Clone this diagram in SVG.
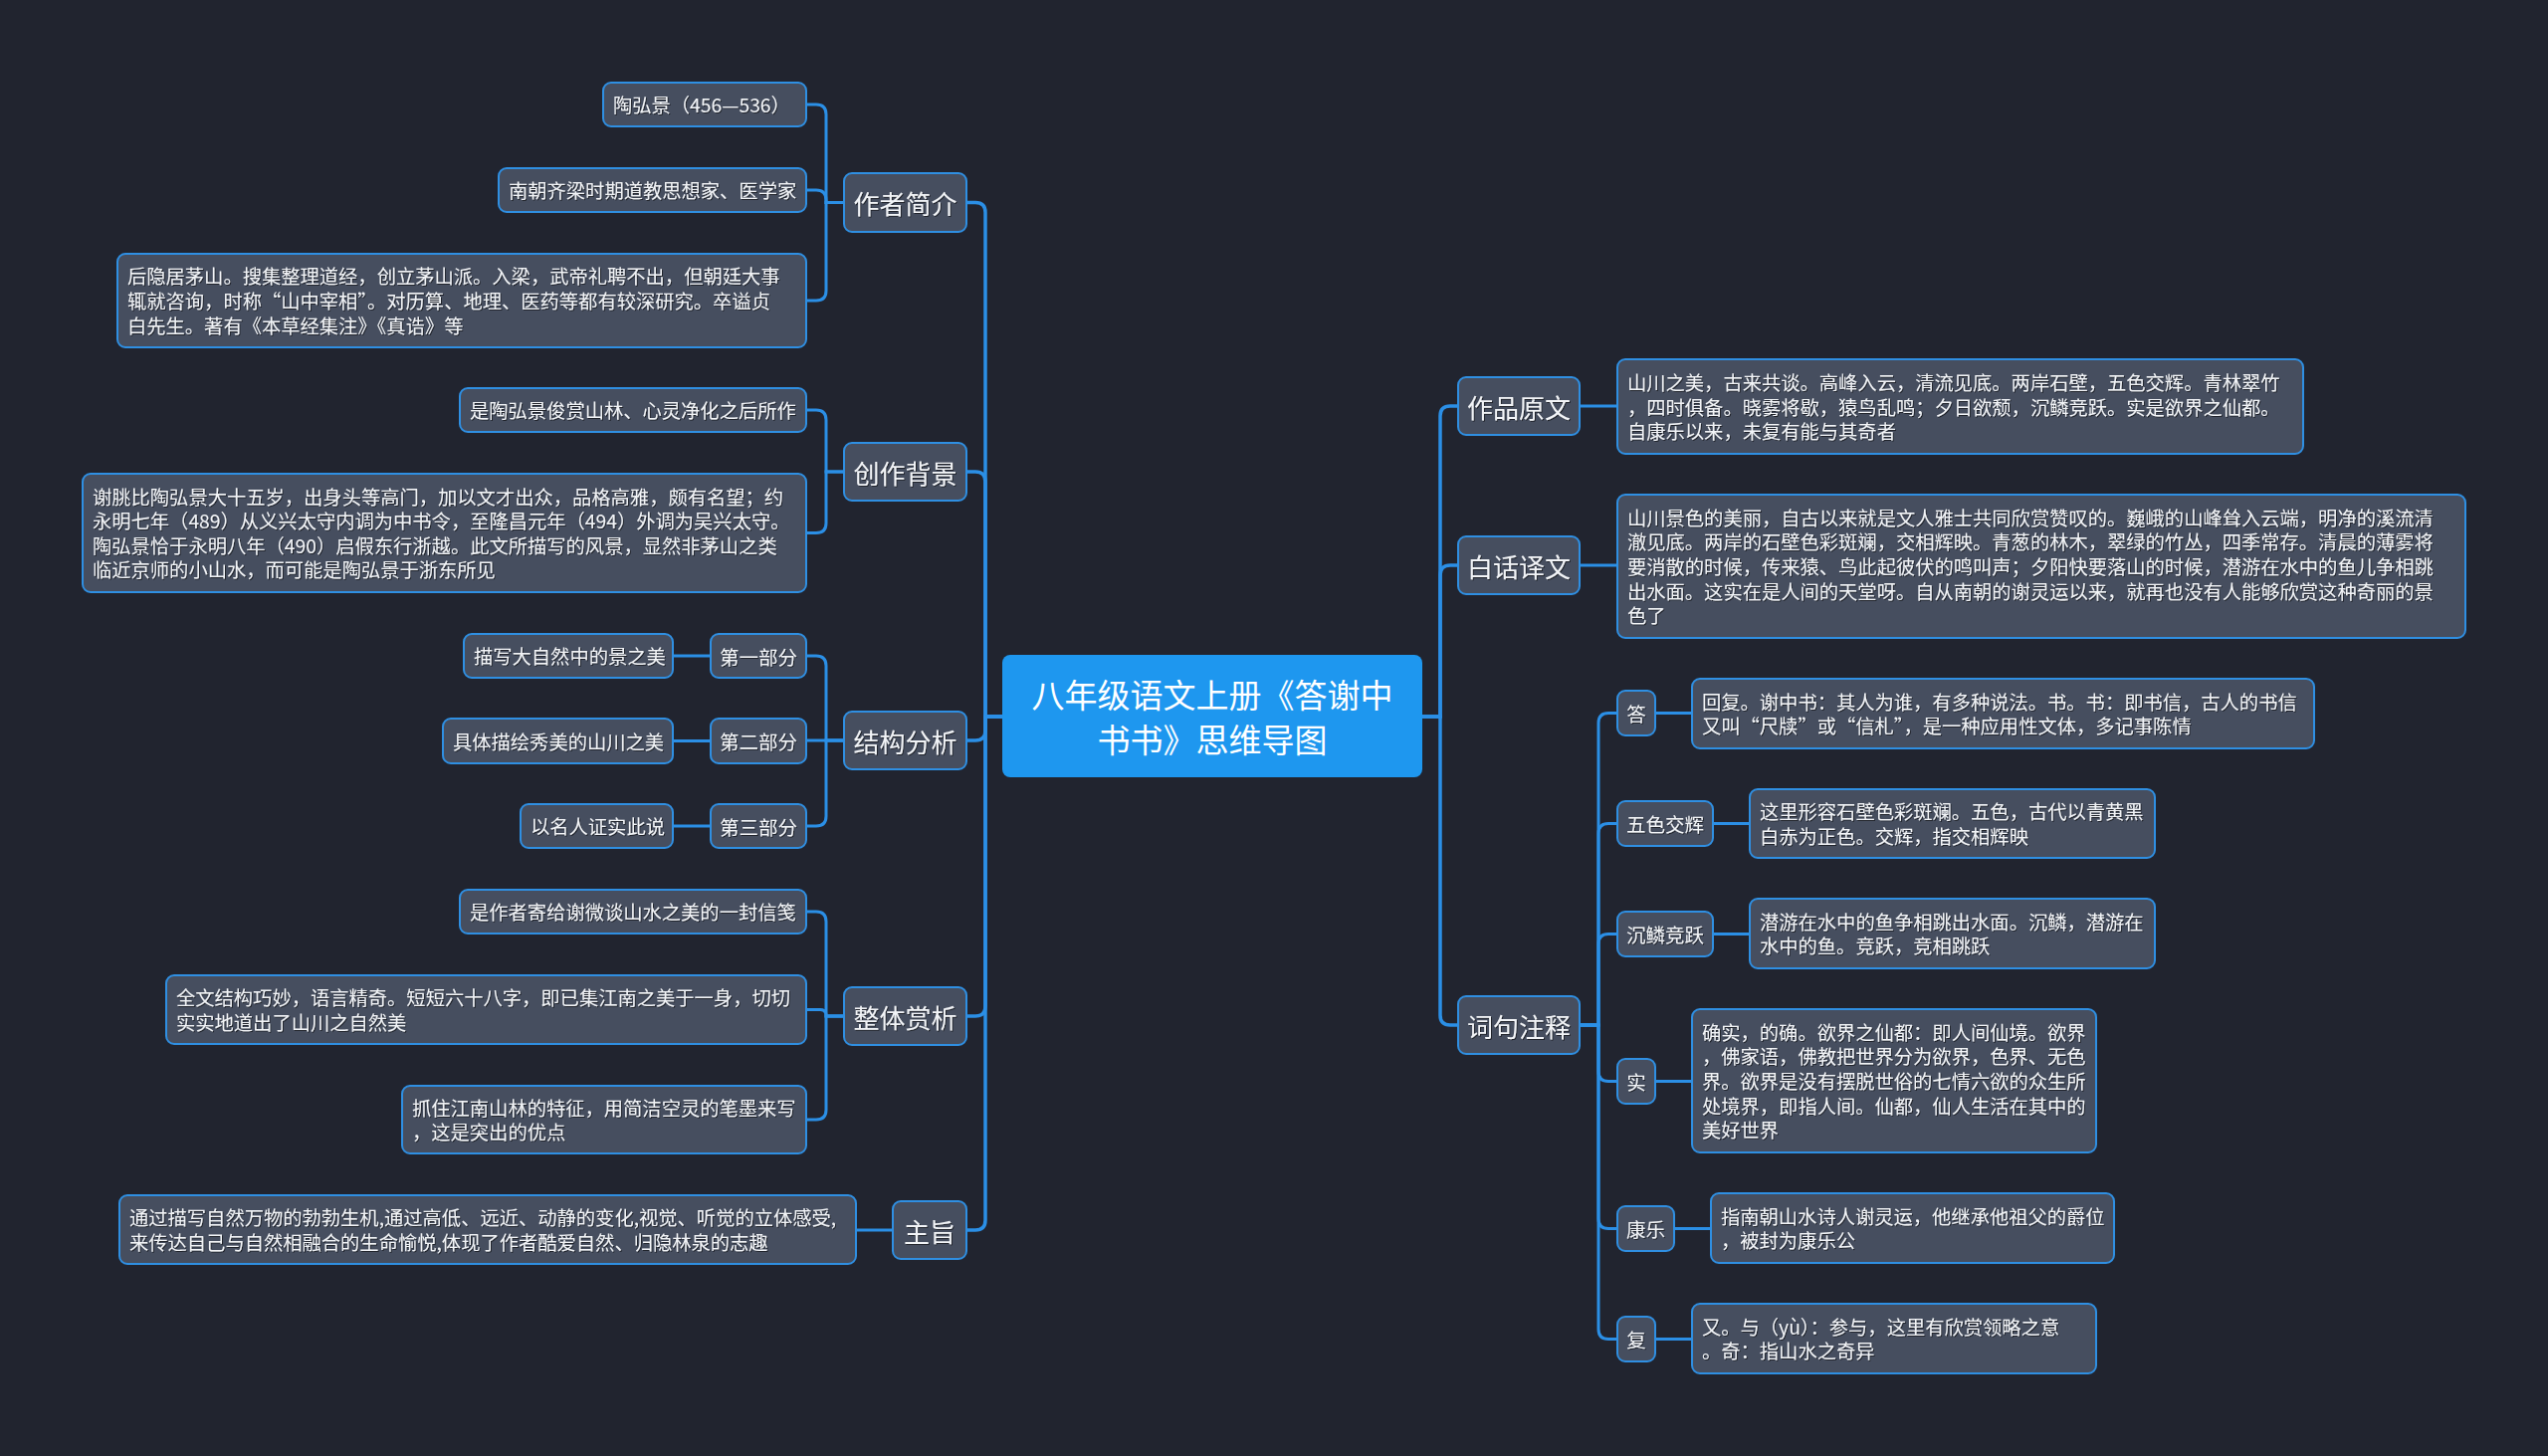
<svg xmlns="http://www.w3.org/2000/svg" width="2560" height="1463" viewBox="0 0 2560 1463">
<style>
.bg{fill:#21242f}
.n{fill:#464e5f;stroke:#2f8fe2;stroke-width:2}
.root{fill:#1e97ef}
.c{fill:none;stroke:#2b8fe6;stroke-width:3.5;stroke-linecap:round}
.c2{fill:none;stroke:#2b8fe6;stroke-width:3}
text{font-family:"Noto Sans CJK SC","Noto Sans",sans-serif;fill:#f2f4f7;dominant-baseline:central}
.t1{font-size:26px;text-anchor:middle}
.t2{font-size:19.3px}
.tk{font-size:19.5px;text-anchor:middle}
.tr{font-size:33px;text-anchor:middle;fill:#ffffff}
.sh{filter:url(#ts)}
</style>
<defs>
<filter id="ts" x="-5%" y="-20%" width="110%" height="140%">
<feDropShadow dx="1" dy="1" stdDeviation="0.6" flood-color="#000" flood-opacity="0.55"/>
</filter>
</defs>
<rect class="bg" x="0" y="0" width="2560" height="1463"/>

<g id="connectors">
<path class="c" d="M1007,720 H990 V213.5 Q990,203.5 980,203.5 H971"/>
<path class="c" d="M1007,720 H990 V484 Q990,474 980,474 H971"/>
<path class="c" d="M1007,720 H990 V734 Q990,744 980,744 H971"/>
<path class="c" d="M1007,720 H990 V1011 Q990,1021 980,1021 H971"/>
<path class="c" d="M1007,720 H990 V1226 Q990,1236 980,1236 H971"/>
<path class="c2" d="M848,203.5 H830 V115 Q830,105 820,105 H810"/>
<path class="c2" d="M848,203.5 H830 V201 Q830,191 820,191 H810"/>
<path class="c2" d="M848,203.5 H830 V292 Q830,302 820,302 H810"/>
<path class="c2" d="M848,474 H830 V422 Q830,412 820,412 H810"/>
<path class="c2" d="M848,474 H830 V525.5 Q830,535.5 820,535.5 H810"/>
<path class="c2" d="M848,744 H830 V669 Q830,659 820,659 H810"/>
<path class="c2" d="M848,744 H810"/>
<path class="c2" d="M848,744 H830 V820 Q830,830 820,830 H810"/>
<path class="c2" d="M714,659 H676"/>
<path class="c2" d="M714,744.5 H676"/>
<path class="c2" d="M714,830 H676"/>
<path class="c2" d="M848,1021 H830 V926 Q830,916 820,916 H810"/>
<path class="c2" d="M848,1021 H830 V1020.5 Q830,1014.5 824,1014.5 H810"/>
<path class="c2" d="M848,1021 H830 V1115 Q830,1125 820,1125 H810"/>
<path class="c2" d="M897,1236 H860"/>
<path class="c" d="M1429,720 H1447 V418 Q1447,408 1457,408 H1465"/>
<path class="c" d="M1429,720 H1447 V578 Q1447,568 1457,568 H1465"/>
<path class="c" d="M1429,720 H1447 V1020 Q1447,1030 1457,1030 H1465"/>
<path class="c2" d="M1587,408 H1625"/>
<path class="c2" d="M1587,568 H1625"/>
<path class="c2" d="M1587,1030 H1606 V726.5 Q1606,716.5 1616,716.5 H1625"/>
<path class="c2" d="M1587,1030 H1606 V837.5 Q1606,827.5 1616,827.5 H1625"/>
<path class="c2" d="M1587,1030 H1606 V948.5 Q1606,938.5 1616,938.5 H1625"/>
<path class="c2" d="M1587,1030 H1606 V1076.5 Q1606,1086.5 1616,1086.5 H1625"/>
<path class="c2" d="M1587,1030 H1606 V1224.5 Q1606,1234.5 1616,1234.5 H1625"/>
<path class="c2" d="M1587,1030 H1606 V1335.5 Q1606,1345.5 1616,1345.5 H1625"/>
<path class="c2" d="M1663,716.5 H1700"/>
<path class="c2" d="M1721,827.5 H1758"/>
<path class="c2" d="M1721,938.5 H1758"/>
<path class="c2" d="M1663,1086.5 H1700"/>
<path class="c2" d="M1682,1234.5 H1719"/>
<path class="c2" d="M1663,1345.5 H1700"/>
</g>

<g id="root">
<rect class="root" x="1007" y="658" width="422" height="123" rx="8"/>
<text class="tr" x="1218" y="697">八年级语文上册《答谢中</text>
<text class="tr" x="1218" y="742">书书》思维导图</text>
</g>

<g id="n-zzjj"><rect class="n" x="848" y="174" width="123" height="59" rx="8"/><text class="t1 sh" x="909.5" y="203.5">作者简介</text></g>
<g id="n-czbj"><rect class="n" x="848" y="445" width="123" height="58" rx="8"/><text class="t1 sh" x="909.5" y="474">创作背景</text></g>
<g id="n-jgfx"><rect class="n" x="848" y="715" width="123" height="58" rx="8"/><text class="t1 sh" x="909.5" y="744">结构分析</text></g>
<g id="n-ztsx"><rect class="n" x="848" y="992" width="123" height="58" rx="8"/><text class="t1 sh" x="909.5" y="1021">整体赏析</text></g>
<g id="n-zz"><rect class="n" x="897" y="1207" width="74" height="58" rx="8"/><text class="t1 sh" x="934" y="1236">主旨</text></g>

<g id="l-1a"><rect class="n" x="606" y="83" width="204" height="44" rx="8"/><text class="t2 sh" x="616" y="105">陶弘景（456—536）</text></g>
<g id="l-1b"><rect class="n" x="501" y="169" width="309" height="44" rx="8"/><text class="t2 sh" x="511" y="191">南朝齐梁时期道教思想家、医学家</text></g>
<g id="l-1c"><rect class="n" x="118" y="255" width="692" height="94" rx="8"/>
<text class="t2 sh" x="128" y="277.4">后隐居茅山。搜集整理道经，创立茅山派。入梁，武帝礼聘不出，但朝廷大事</text>
<text class="t2 sh" x="128" y="302">辄就咨询，时称“山中宰相”。对历算、地理、医药等都有较深研究。卒谥贞</text>
<text class="t2 sh" x="128" y="326.6">白先生。著有《本草经集注》《真诰》等</text></g>
<g id="l-2a"><rect class="n" x="462" y="390" width="348" height="44" rx="8"/><text class="t2 sh" x="472" y="412">是陶弘景俊赏山林、心灵净化之后所作</text></g>
<g id="l-2b"><rect class="n" x="83" y="476" width="727" height="119" rx="8"/>
<text class="t2 sh" x="93" y="498.6">谢朓比陶弘景大十五岁，出身头等高门，加以文才出众，品格高雅，颇有名望；约</text>
<text class="t2 sh" x="93" y="523.2">永明七年（489）从义兴太守内调为中书令，至隆昌元年（494）外调为吴兴太守。</text>
<text class="t2 sh" x="93" y="547.8">陶弘景恰于永明八年（490）启假东行浙越。此文所描写的风景，显然非茅山之类</text>
<text class="t2 sh" x="93" y="572.4">临近京师的小山水，而可能是陶弘景于浙东所见</text></g>
<g id="k-3a"><rect class="n" x="714" y="637" width="96" height="44" rx="8"/><text class="tk sh" x="762" y="659">第一部分</text></g>
<g id="k-3b"><rect class="n" x="714" y="722" width="96" height="45" rx="8"/><text class="tk sh" x="762" y="744.5">第二部分</text></g>
<g id="k-3c"><rect class="n" x="714" y="808" width="96" height="44" rx="8"/><text class="tk sh" x="762" y="830">第三部分</text></g>
<g id="l-3a"><rect class="n" x="466" y="637" width="210" height="44" rx="8"/><text class="t2 sh" x="476" y="659">描写大自然中的景之美</text></g>
<g id="l-3b"><rect class="n" x="445" y="722" width="231" height="45" rx="8"/><text class="t2 sh" x="455" y="744.5">具体描绘秀美的山川之美</text></g>
<g id="l-3c"><rect class="n" x="523" y="808" width="153" height="44" rx="8"/><text class="t2 sh" x="533" y="830">以名人证实此说</text></g>
<g id="l-4a"><rect class="n" x="462" y="894" width="348" height="44" rx="8"/><text class="t2 sh" x="472" y="916">是作者寄给谢微谈山水之美的一封信笺</text></g>
<g id="l-4b"><rect class="n" x="167" y="980" width="643" height="69" rx="8"/>
<text class="t2 sh" x="177" y="1002.2">全文结构巧妙，语言精奇。短短六十八字，即已集江南之美于一身，切切</text>
<text class="t2 sh" x="177" y="1026.8">实实地道出了山川之自然美</text></g>
<g id="l-4c"><rect class="n" x="404" y="1091" width="406" height="68" rx="8"/>
<text class="t2 sh" x="414" y="1112.7">抓住江南山林的特征，用简洁空灵的笔墨来写</text>
<text class="t2 sh" x="414" y="1137.3">，这是突出的优点</text></g>
<g id="l-5"><rect class="n" x="120" y="1201" width="740" height="69" rx="8"/>
<text class="t2 sh" x="130" y="1223.2">通过描写自然万物的勃勃生机,通过高低、远近、动静的变化,视觉、听觉的立体感受,</text>
<text class="t2 sh" x="130" y="1247.8">来传达自己与自然相融合的生命愉悦,体现了作者酷爱自然、归隐林泉的志趣</text></g>

<g id="n-zpyw"><rect class="n" x="1465" y="379" width="122" height="58" rx="8"/><text class="t1 sh" x="1526" y="408">作品原文</text></g>
<g id="n-bhyw"><rect class="n" x="1465" y="539" width="122" height="58" rx="8"/><text class="t1 sh" x="1526" y="568">白话译文</text></g>
<g id="n-cjzs"><rect class="n" x="1465" y="1001" width="122" height="58" rx="8"/><text class="t1 sh" x="1526" y="1030">词句注释</text></g>

<g id="r-1"><rect class="n" x="1625" y="361" width="689" height="95" rx="8"/>
<text class="t2 sh" x="1635" y="384.1">山川之美，古来共谈。高峰入云，清流见底。两岸石壁，五色交辉。青林翠竹</text>
<text class="t2 sh" x="1635" y="408.7">，四时俱备。晓雾将歇，猿鸟乱鸣；夕日欲颓，沉鳞竞跃。实是欲界之仙都。</text>
<text class="t2 sh" x="1635" y="433.3">自康乐以来，未复有能与其奇者</text></g>
<g id="r-2"><rect class="n" x="1625" y="497" width="852" height="144" rx="8"/>
<text class="t2 sh" x="1635" y="519.8">山川景色的美丽，自古以来就是文人雅士共同欣赏赞叹的。巍峨的山峰耸入云端，明净的溪流清</text>
<text class="t2 sh" x="1635" y="544.4">澈见底。两岸的石壁色彩斑斓，交相辉映。青葱的林木，翠绿的竹丛，四季常存。清晨的薄雾将</text>
<text class="t2 sh" x="1635" y="569">要消散的时候，传来猿、鸟此起彼伏的鸣叫声；夕阳快要落山的时候，潜游在水中的鱼儿争相跳</text>
<text class="t2 sh" x="1635" y="593.6">出水面。这实在是人间的天堂呀。自从南朝的谢灵运以来，就再也没有人能够欣赏这种奇丽的景</text>
<text class="t2 sh" x="1635" y="618.2">色了</text></g>

<g id="k-da"><rect class="n" x="1625" y="694" width="38" height="45" rx="8"/><text class="tk sh" x="1644" y="716.5">答</text></g>
<g id="k-wsjh"><rect class="n" x="1625" y="805" width="96" height="45" rx="8"/><text class="tk sh" x="1673" y="827.5">五色交辉</text></g>
<g id="k-cljy"><rect class="n" x="1625" y="916" width="96" height="45" rx="8"/><text class="tk sh" x="1673" y="938.5">沉鳞竞跃</text></g>
<g id="k-shi"><rect class="n" x="1625" y="1064" width="38" height="45" rx="8"/><text class="tk sh" x="1644" y="1086.5">实</text></g>
<g id="k-kl"><rect class="n" x="1625" y="1212" width="57" height="45" rx="8"/><text class="tk sh" x="1653.5" y="1234.5">康乐</text></g>
<g id="k-fu"><rect class="n" x="1625" y="1323" width="38" height="45" rx="8"/><text class="tk sh" x="1644" y="1345.5">复</text></g>

<g id="r-da"><rect class="n" x="1700" y="682" width="625" height="70" rx="8"/>
<text class="t2 sh" x="1710" y="704.7">回复。谢中书：其人为谁，有多种说法。书。书：即书信，古人的书信</text>
<text class="t2 sh" x="1710" y="729.3">又叫“尺牍”或“信札”，是一种应用性文体，多记事陈情</text></g>
<g id="r-wsjh"><rect class="n" x="1758" y="793" width="407" height="69" rx="8"/>
<text class="t2 sh" x="1768" y="815.2">这里形容石壁色彩斑斓。五色，古代以青黄黑</text>
<text class="t2 sh" x="1768" y="839.8">白赤为正色。交辉，指交相辉映</text></g>
<g id="r-cljy"><rect class="n" x="1758" y="903" width="407" height="70" rx="8"/>
<text class="t2 sh" x="1768" y="925.7">潜游在水中的鱼争相跳出水面。沉鳞，潜游在</text>
<text class="t2 sh" x="1768" y="950.3">水中的鱼。竞跃，竞相跳跃</text></g>
<g id="r-shi"><rect class="n" x="1700" y="1014" width="406" height="144" rx="8"/>
<text class="t2 sh" x="1710" y="1036.8">确实，的确。欲界之仙都：即人间仙境。欲界</text>
<text class="t2 sh" x="1710" y="1061.4">，佛家语，佛教把世界分为欲界，色界、无色</text>
<text class="t2 sh" x="1710" y="1086">界。欲界是没有摆脱世俗的七情六欲的众生所</text>
<text class="t2 sh" x="1710" y="1110.6">处境界，即指人间。仙都，仙人生活在其中的</text>
<text class="t2 sh" x="1710" y="1135.2">美好世界</text></g>
<g id="r-kl"><rect class="n" x="1719" y="1199" width="405" height="70" rx="8"/>
<text class="t2 sh" x="1729" y="1221.7">指南朝山水诗人谢灵运，他继承他祖父的爵位</text>
<text class="t2 sh" x="1729" y="1246.3">，被封为康乐公</text></g>
<g id="r-fu"><rect class="n" x="1700" y="1310" width="406" height="70" rx="8"/>
<text class="t2 sh" x="1710" y="1332.7">又。与（yù）：参与，这里有欣赏领略之意</text>
<text class="t2 sh" x="1710" y="1357.3">。奇：指山水之奇异</text></g>
</svg>
